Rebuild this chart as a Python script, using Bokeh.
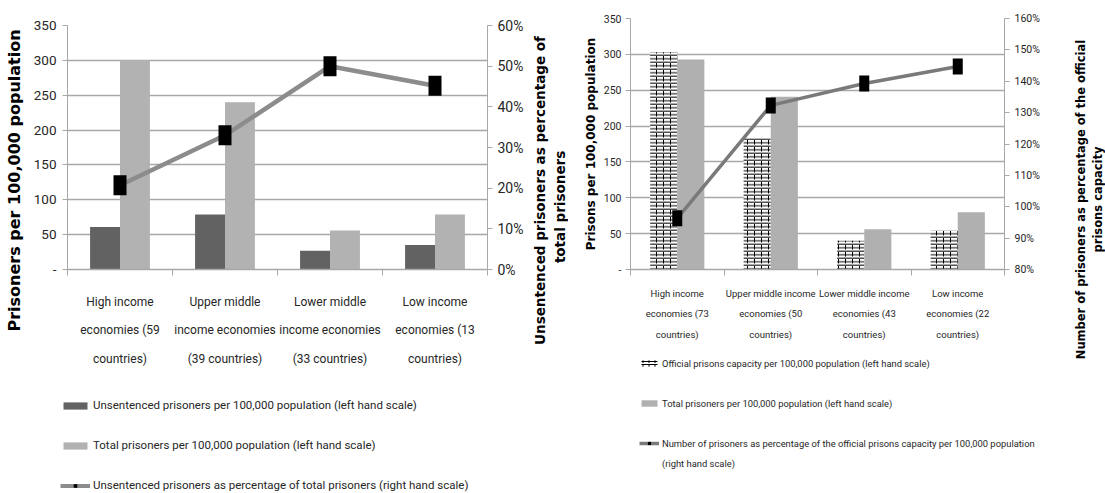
import math
from bokeh.plotting import figure
from bokeh.models import (Range1d, LinearAxis, FixedTicker, NumeralTickFormatter,
                          Legend, LegendItem, ColumnDataSource)
from bokeh.transform import dodge
from bokeh.layouts import row, column
from bokeh.embed import file_html
from bokeh.resources import INLINE

# ---------------- data: left chart ----------------
left_categories = ["High income\neconomies (59\ncountries)",
                   "Upper middle\nincome economies\n(39 countries)",
                   "Lower middle\nincome economies\n(33 countries)",
                   "Low income\neconomies (13\ncountries)"]
unsentenced_per_100k = [61, 79, 27, 35]
total_prisoners_left = [300, 240, 56, 79]
unsentenced_pct = [0.207, 0.33, 0.50, 0.452]

# ---------------- data: right chart ----------------
right_categories = ["High income\neconomies (73\ncountries)",
                    "Upper middle income\neconomies (50\ncountries)",
                    "Lower middle income\neconomies (43\ncountries)",
                    "Low income\neconomies (22\ncountries)"]
capacity_per_100k = [303, 183, 40, 54]
total_prisoners_right = [293, 241, 56, 80]
occupancy_pct = [0.963, 1.323, 1.393, 1.447]

left_ticks = [0, 50, 100, 150, 200, 250, 300, 350]
left_pct_ticks = [0, 0.1, 0.2, 0.3, 0.4, 0.5, 0.6]
right_pct_ticks = [0.8, 0.9, 1.0, 1.1, 1.2, 1.3, 1.4, 1.5, 1.6]

NARROW = "Roboto"
BOLD = "DejaVu Sans"
GRID = "#a8a8a8"
TXT = "#262626"
NB = "\u00a0"

DARK = "#626262"
LIGHT = "#b2b2b2"
LINE1 = "#8c8c8c"
LINE2 = "#7a7a7a"


def no_align(f):
    if "frame_align" in f.properties():
        f.frame_align = False
    return f


def base_fig(width, height, cats, border_left, border_right, border_top, tick_size,
             cat_size, cat_lh, cat_standoff):
    p = figure(width=width, height=height, x_range=Range1d(-0.5, 3.5), y_range=Range1d(0, 350),
               output_backend="svg", toolbar_location=None,
               min_border_left=border_left, min_border_right=border_right,
               min_border_top=border_top, min_border_bottom=height - 269)
    no_align(p)
    p.outline_line_color = None
    p.xgrid.visible = False
    p.ygrid.grid_line_color = GRID
    p.ygrid.grid_line_width = 1.3
    p.yaxis.ticker = FixedTicker(ticks=left_ticks)
    p.yaxis.major_label_overrides = {0: "-"}
    p.yaxis.axis_line_color = GRID
    p.yaxis.major_tick_line_color = GRID
    p.yaxis.major_tick_in = 0
    p.yaxis.major_tick_out = 5
    p.yaxis.minor_tick_line_color = None
    p.yaxis.major_label_text_font = NARROW
    p.yaxis.major_label_text_font_size = tick_size
    p.yaxis.major_label_text_color = TXT
    p.yaxis.major_label_standoff = 6

    p.xaxis.ticker = FixedTicker(ticks=[0, 1, 2, 3], minor_ticks=[-0.5, 0.5, 1.5, 2.5, 3.5])
    p.xaxis.major_label_overrides = {i: c for i, c in enumerate(cats)}
    p.xaxis.major_tick_line_color = None
    p.xaxis.major_tick_out = 0
    p.xaxis.major_tick_in = 0
    p.xaxis.minor_tick_out = 6
    p.xaxis.minor_tick_in = 0
    p.xaxis.minor_tick_line_color = GRID
    p.xaxis.axis_line_color = GRID
    p.xaxis.axis_line_width = 1.3
    p.xaxis.major_label_text_font = NARROW
    p.xaxis.major_label_text_font_size = cat_size
    p.xaxis.major_label_text_color = TXT
    p.xaxis.major_label_text_line_height = cat_lh
    p.xaxis.major_label_standoff = cat_standoff
    return p


def right_axis(rng, ticks, tick_size):
    return LinearAxis(y_range_name=rng, ticker=FixedTicker(ticks=ticks),
                      formatter=NumeralTickFormatter(format="0%"),
                      axis_line_color=GRID, major_tick_line_color=GRID, major_tick_in=0,
                      major_tick_out=5, minor_tick_line_color=None, major_label_text_font=NARROW,
                      major_label_text_font_size=tick_size, major_label_text_color=TXT,
                      major_label_standoff=5)


def title_fig(width, height, top, bottom, text, size):
    """narrow strip beside a chart carrying one of its scale titles"""
    f = figure(width=width, height=height, x_range=Range1d(0, 1), y_range=Range1d(0, 1),
               x_axis_type=None, y_axis_location="left", output_backend="svg",
               toolbar_location=None, min_border_left=width - 1, min_border_right=0,
               min_border_top=top, min_border_bottom=bottom)
    no_align(f)
    f.outline_line_color = None
    f.ygrid.visible = False
    ax = f.yaxis[0]
    ax.ticker = FixedTicker(ticks=[])
    ax.axis_line_color = None
    ax.major_tick_line_color = None
    ax.minor_tick_line_color = None
    ax.major_label_text_font_size = "0px"
    ax.axis_label = text
    ax.axis_label_text_font = BOLD
    ax.axis_label_text_font_style = "bold"
    ax.axis_label_text_font_size = size
    ax.axis_label_text_color = "black"
    ax.axis_label_standoff = 0
    return f


def legend_fig(width, height, left, top):
    f = figure(width=width, height=height, x_range=Range1d(0, 1), y_range=Range1d(0, 1),
               x_axis_type=None, y_axis_type=None, output_backend="svg",
               toolbar_location=None, min_border_left=left, min_border_top=top,
               min_border_right=0, min_border_bottom=0)
    no_align(f)
    f.outline_line_color = None
    return f


def legend(items, loc, size, gw, gh, spacing):
    return Legend(items=items, location=loc, orientation="vertical", label_text_font=NARROW,
                  label_text_font_size=size, label_text_color=TXT, glyph_width=gw, glyph_height=gh,
                  label_standoff=3, spacing=spacing, padding=0, margin=0, border_line_color=None,
                  background_fill_alpha=0, label_height=20)


# off-screen sample data for the legend-only figures (outside their 0..1 ranges)
OFF_X = [5, 6]
OFF_Y = [5, 5]

# ================= LEFT CHART =================
src_l = ColumnDataSource(dict(x=[0, 1, 2, 3], unsent=unsentenced_per_100k,
                              total=total_prisoners_left, pct=unsentenced_pct))
t0 = title_fig(24, 378, 0, 18, "Prisoners per 100,000 population", "16px")
p1 = base_fig(504, 378, left_categories, 67 - 24, 528 - 487, 25, "13.5px", "12px", 2.05, 19)

p1.extra_y_ranges = {"pct": Range1d(0, 0.6)}
p1.add_layout(right_axis("pct", left_pct_ticks, "14px"), "right")

bw1 = 0.285
p1.vbar(x=dodge("x", -bw1 / 2), top="unsent", width=bw1, source=src_l,
        fill_color=DARK, line_color=None)
p1.vbar(x=dodge("x", bw1 / 2), top="total", width=bw1, source=src_l,
        fill_color=LIGHT, line_color=None)
p1.line(x="x", y="pct", source=src_l, y_range_name="pct", line_color=LINE1, line_width=4.5)
p1.rect(x="x", y="pct", source=src_l, y_range_name="pct", width=13, height=20,
        width_units="screen", height_units="screen", fill_color="black", line_color=None)

t1 = title_fig(40, 378, 5, 3,
               "Unsentenced prisoners as percentage of\ntotal prisoners" + NB * 7, "13.5px")

# legend of the left chart (its own borderless figure under the chart)
l1 = legend_fig(568, 493 - 378, 60, 17)
a1 = l1.vbar(x=OFF_X, top=OFF_Y, width=1, fill_color=DARK, line_color=None)
a2 = l1.vbar(x=OFF_X, top=OFF_Y, width=1, fill_color=LIGHT, line_color=None)
a3 = l1.line(x=OFF_X, y=OFF_Y, line_color=LINE1, line_width=4)
a4 = l1.scatter(x=OFF_X, y=OFF_Y, marker="square", size=10, fill_color="black", line_color=None)
l1.add_layout(legend([
    LegendItem(label="Unsentenced prisoners per 100,000 population (left hand scale)", renderers=[a1]),
    LegendItem(label="Total prisoners per 100,000 population (left hand scale)", renderers=[a2]),
    LegendItem(label="Unsentenced prisoners as percentage of total prisoners (right hand scale)",
               renderers=[a3, a4]),
], "top_left", "11.5px", 30, 9, 20), "center")

# ================= RIGHT CHART =================
src_r = ColumnDataSource(dict(x=[0, 1, 2, 3], cap=capacity_per_100k,
                              total=total_prisoners_right, pct=occupancy_pct))
p2 = base_fig(474, 350, right_categories, 630 - 568, 1042 - 1005, 18, "10.5px", "9.5px", 1.87, 12)
p2.yaxis.axis_label = "Prisons per 100,000 population"
p2.yaxis.axis_label_text_font = BOLD
p2.yaxis.axis_label_text_font_style = "bold"
p2.yaxis.axis_label_text_font_size = "12px"
p2.yaxis.axis_label_text_color = "black"
p2.yaxis.axis_label_standoff = 3
p2.yaxis.major_label_standoff = 4

p2.extra_y_ranges = {"pct": Range1d(0.8, 1.6)}
p2.add_layout(right_axis("pct", right_pct_ticks, "10.5px"), "right")

bw2 = 0.29
p2.vbar(x=dodge("x", -bw2 / 2), top="cap", width=bw2, source=src_r,
        fill_color="white", line_color=None, hatch_pattern="horizontal_line",
        hatch_color="black", hatch_scale=3.5, hatch_weight=1)
p2.vbar(x=dodge("x", -bw2 / 2), top="cap", width=bw2, source=src_r,
        fill_alpha=0, line_color=None, hatch_pattern="vertical_dash",
        hatch_color="black", hatch_scale=7, hatch_weight=1)
p2.vbar(x=dodge("x", bw2 / 2), top="total", width=bw2, source=src_r,
        fill_color="#b0b0b0", line_color=None)
p2.line(x="x", y="pct", source=src_r, y_range_name="pct", line_color=LINE2, line_width=3.5)
p2.rect(x="x", y="pct", source=src_r, y_range_name="pct", width=10, height=16,
        width_units="screen", height_units="screen", fill_color="black", line_color=None)

t2 = title_fig(63, 493, 48, 493 - 350,
               "Number of prisoners as percentage of the official\nprisons capacity", "11.5px")

# legend of the right chart
l2 = legend_fig(474, 493 - 350, 642 - 568 - 3, 3)
b1 = l2.vbar(x=OFF_X, top=OFF_Y, width=1, fill_color="white", line_color=None,
             hatch_pattern="horizontal_line", hatch_color="black", hatch_scale=3, hatch_weight=1)
b1b = l2.vbar(x=OFF_X, top=OFF_Y, width=1, fill_alpha=0, line_color=None,
              hatch_pattern="vertical_dash", hatch_color="black", hatch_scale=6, hatch_weight=1)
b2 = l2.vbar(x=OFF_X, top=OFF_Y, width=1, fill_color="#b0b0b0", line_color=None)
b3 = l2.line(x=OFF_X, y=OFF_Y, line_color=LINE2, line_width=3.5)
b4 = l2.scatter(x=OFF_X, y=OFF_Y, marker="square", size=8, fill_color="black", line_color=None)
b5 = l2.scatter(x=OFF_X, y=OFF_Y, marker="square", size=1, fill_alpha=0, line_alpha=0)
l2.add_layout(legend([
    LegendItem(label="Official prisons capacity per 100,000 population (left hand scale)",
               renderers=[b1, b1b]),
    LegendItem(label="Total prisoners per 100,000 population (left hand scale)", renderers=[b2]),
    LegendItem(label="Number of prisoners as percentage of the official prisons capacity per 100,000 population",
               renderers=[b3, b4]),
], "top_left", "9.4px", 20, 8, 20), "center")
l2.add_layout(legend([LegendItem(label="(right hand scale)", renderers=[b5])],
                     (0, 493 - 350 - 3 - 120), "9.4px", 20, 8, 0), "center")

layout = row(column(row(t0, p1, t1), l1), row(column(p2, l2), t2))
open("out.html", "w").write(file_html(layout, INLINE))
